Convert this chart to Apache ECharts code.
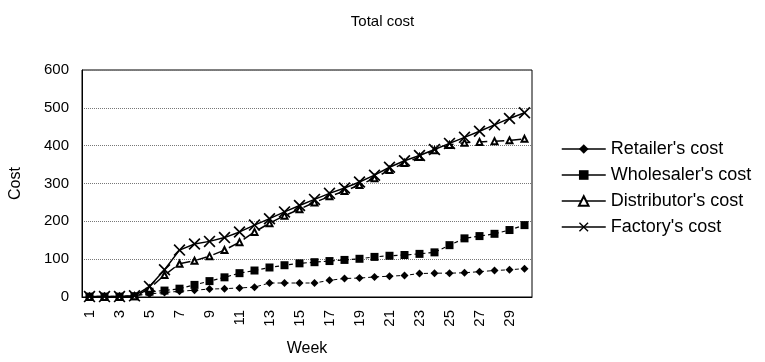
<!DOCTYPE html>
<html>
<head>
<meta charset="utf-8">
<script src="https://cdn.jsdelivr.net/npm/echarts@6/dist/echarts.min.js"></script>
<style>html,body{margin:0;padding:0;background:#fff;}#c{width:765px;height:362px;}</style>
</head>
<body>
<div id="c"></div>
<script>
var weeks = ['1','2','3','4','5','6','7','8','9','10','11','12','13','14','15','16','17','18','19','20','21','22','23','24','25','26','27','28','29','30'];
var retailer = [2,2,2,3,8,12,15,18,21,22,24,26,37,37,37,37,44,49,50,53,55,57,62,63,63,64,67,70,72,75];
var wholesaler = [1,1,1,2,14,17,22,32,42,52,63,70,78,84,89,92,95,98,101,106,109,111,114,118,137,155,161,167,177,190];
var distributor = [0,0,0,2,22,58,88,96,108,124,145,172,195,215,232,250,266,280,296,314,336,354,370,388,402,408,410,412,414,418];
var factory = [1,1,1,3,28,72,124,140,147,157,172,190,207,225,242,258,274,288,304,322,343,360,374,390,406,422,438,455,472,487];
var seriesNames = ["Retailer's cost","Wholesaler's cost","Distributor's cost","Factory's cost"];

var F = 'Liberation Sans, Arial, sans-serif';
var xPath = 'path://M0,1 L1,0 L5,4 L9,0 L10,1 L6,5 L10,9 L9,10 L5,6 L1,10 L0,9 L4,5 Z';
var chart = echarts.init(document.getElementById('c'));
chart.setOption({
  animation: false,
  backgroundColor: '#fff',
  title: { text: 'Total cost', left: 'center', top: 9, textStyle: { fontFamily: F, fontSize: 15, fontWeight: 'normal', color: '#000' } },
  grid: { left: 82, right: 233, top: 70, bottom: 65, show: true, borderColor: '#000', borderWidth: 1 },
  legend: {
    orient: 'vertical', left: 556, top: 135, itemWidth: 44, itemHeight: 12, itemGap: 8,
    lineStyle: { type: 'solid', width: 1.5 },
    data: seriesNames.map(function (n) {
      return { name: n, lineStyle: { type: 'solid', color: '#000', width: 1.5 } };
    }),
    textStyle: { fontFamily: F, fontSize: 18, color: '#000' }
  },
  xAxis: {
    type: 'category', data: weeks, boundaryGap: true,
    name: 'Week', nameLocation: 'middle', nameGap: 44,
    nameTextStyle: { fontFamily: F, fontSize: 16, color: '#000' },
    axisLine: { lineStyle: { color: '#000' } },
    axisTick: { inside: true, length: 3, lineStyle: { color: '#000' } },
    axisLabel: { interval: 1, rotate: 90, margin: 13, fontFamily: F, fontSize: 15, color: '#000' }
  },
  yAxis: {
    type: 'value', min: 0, max: 600, interval: 100,
    name: 'Cost', nameLocation: 'middle', nameGap: 58,
    nameTextStyle: { fontFamily: F, fontSize: 16, color: '#000' },
    axisLine: { show: true, lineStyle: { color: '#000' } },
    axisTick: { show: false },
    axisLabel: { margin: 13, fontFamily: F, fontSize: 15, color: '#000' },
    splitLine: { lineStyle: { color: '#777', type: 'dotted' } }
  },
  series: [
    { name: seriesNames[0], type: 'line', data: retailer, symbol: 'diamond', symbolSize: 8, showAllSymbol: true,
      itemStyle: { color: '#000' }, lineStyle: { color: '#000', width: 1, type: [4,3] } },
    { name: seriesNames[1], type: 'line', data: wholesaler, symbol: 'rect', symbolSize: 8, showAllSymbol: true,
      itemStyle: { color: '#000' }, lineStyle: { color: '#000', width: 1.2, type: [4,3] } },
    { name: seriesNames[2], type: 'line', data: distributor, symbol: 'emptyTriangle', symbolSize: 6, showAllSymbol: true,
      itemStyle: { color: '#000', borderColor: '#000', borderWidth: 1 }, lineStyle: { color: '#000', width: 1.5, type: [10,7] } },
    { name: seriesNames[3], type: 'line', data: factory, symbol: xPath, symbolSize: 12, showAllSymbol: true,
      itemStyle: { color: '#000' }, lineStyle: { color: '#000', width: 1.5 } }
  ]
});
</script>
</body>
</html>
